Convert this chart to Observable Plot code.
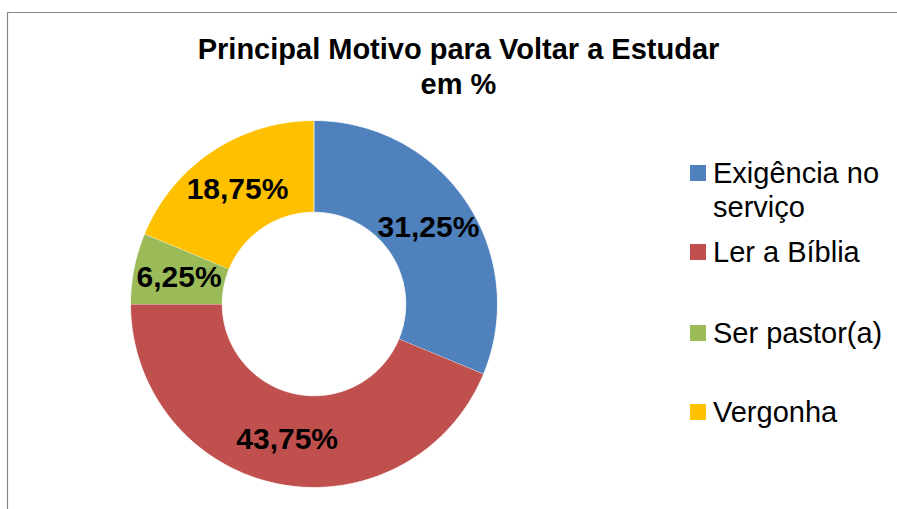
<!DOCTYPE html>
<html>
<head>
<meta charset="utf-8">
<script src="https://cdn.jsdelivr.net/npm/d3@7"></script>
<script src="https://cdn.jsdelivr.net/npm/@observablehq/plot@0.6"></script>
<style>
  html, body { margin: 0; padding: 0; background: #fff; }
  #wrap { position: relative; width: 897px; height: 509px; overflow: hidden; background: #fff; }
  #wrap > svg { position: absolute; left: 0; top: 0; }
</style>
</head>
<body>
<div id="wrap"></div>
<script>
// ---- data ----
const categories = ["Exigência no serviço", "Ler a Bíblia", "Ser pastor(a)", "Vergonha"];
const values = [31.25, 43.75, 6.25, 18.75];
const colors = ["#4F81BD", "#C0504D", "#9BBB59", "#FFC000"];
const titleLines = ["Principal Motivo para Voltar a Estudar", "em %"];

// ---- layout ----
const W = 897, H = 509;
const FONT = "'Liberation Sans', Arial, Helvetica, sans-serif";
const innerRatio = 0.5;

// build slice polygons (angles from values, clockwise from 12 o'clock)
const total = d3.sum(values);
const rows = [];
const labels = [];
let cum = 0;
values.forEach((v, i) => {
  const a0 = cum / total * 2 * Math.PI;
  const a1 = (cum + v) / total * 2 * Math.PI;
  const n = Math.max(4, Math.ceil((a1 - a0) / (Math.PI / 180)));
  for (let k = 0; k <= n; k++) {
    const a = a0 + (a1 - a0) * k / n;
    rows.push({cat: categories[i], x: Math.sin(a), y: Math.cos(a)});
  }
  for (let k = n; k >= 0; k--) {
    const a = a0 + (a1 - a0) * k / n;
    rows.push({cat: categories[i], x: innerRatio * Math.sin(a), y: innerRatio * Math.cos(a)});
  }
  const am = (a0 + a1) / 2, rm = (1 + innerRatio) / 2;
  labels.push({x: rm * Math.sin(am), y: rm * Math.cos(am),
               text: v.toFixed(2).replace(".", ",") + "%"});
  cum += v;
});

const chart = Plot.plot({
  width: W, height: H,
  marginLeft: 130, marginRight: 400, marginTop: 120, marginBottom: 22,
  x: {domain: [-1, 1], axis: null},
  y: {domain: [-1, 1], axis: null},
  color: {domain: categories, range: colors},
  style: {fontFamily: FONT, background: "transparent", overflow: "visible"},
  marks: [
    Plot.line(rows, {x: "x", y: "y", z: "cat", fill: "cat", stroke: "white", strokeWidth: 0.8, curve: "linear"}),
    Plot.text(labels, {x: "x", y: "y", text: "text", fontSize: 30, fontWeight: "bold", fill: "black"})
  ]
});
document.getElementById("wrap").appendChild(chart);

// ---- title, frame, legend overlay ----
const ov = d3.select("#wrap").append("svg")
  .attr("width", W).attr("height", H)
  .style("pointer-events", "none")
  .style("font-family", FONT);

ov.append("path").attr("d", `M7.5,${H} V12.5 H${W}`)
  .attr("fill", "none").attr("stroke", "#898989").attr("stroke-width", 1.2);

const titleY = [59, 94];
ov.selectAll("text.title").data(titleLines).join("text")
  .attr("class", "title")
  .attr("x", 458.5).attr("y", (d, i) => titleY[i])
  .attr("text-anchor", "middle")
  .attr("font-size", 29).attr("font-weight", "bold").attr("fill", "#000")
  .text(d => d);

const legendBaselines = [183, 262, 343, 422];
const lineGap = 34, maxTextW = 175;
categories.forEach((c, i) => {
  const g = ov.append("g");
  const y = legendBaselines[i];
  g.append("rect").attr("x", 690).attr("y", y - 18).attr("width", 16).attr("height", 16)
    .attr("fill", colors[i]);
  const t = g.append("text").attr("x", 713).attr("y", y)
    .attr("font-size", 29).attr("fill", "#000");
  // simple word wrap
  const words = c.split(" ");
  let line = [], lineNo = 0;
  let ts = t.append("tspan").attr("x", 713).attr("y", y);
  for (const w of words) {
    line.push(w);
    ts.text(line.join(" "));
    if (ts.node().getComputedTextLength() > maxTextW && line.length > 1) {
      line.pop();
      ts.text(line.join(" "));
      line = [w];
      lineNo++;
      ts = t.append("tspan").attr("x", 713).attr("y", y + lineNo * lineGap).text(w);
    }
  }
});
</script>
</body>
</html>
